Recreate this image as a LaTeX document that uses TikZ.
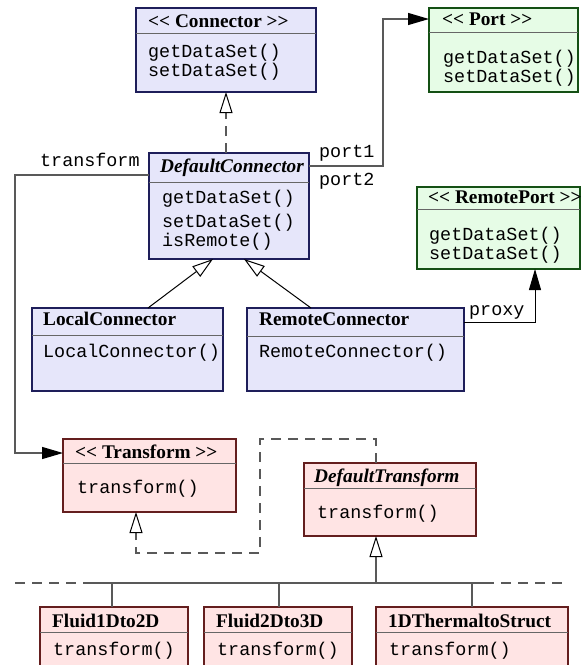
\documentclass[tikz,border=0pt]{standalone}
\usepackage{fontspec}
\setmainfont{Liberation Serif}
\setmonofont{Liberation Mono}
\usetikzlibrary{arrows.meta,calc}

\definecolor{clsblue}{RGB}{230,230,250}
\definecolor{clsgreen}{RGB}{230,252,230}
\definecolor{clspink}{RGB}{255,228,228}
\definecolor{edgeblue}{RGB}{30,30,90}
\definecolor{edgegreen}{RGB}{20,80,20}
\definecolor{edgepink}{RGB}{100,30,30}

\newcommand{\ltlt}{<\kern0pt<}
\newcommand{\gtgt}{>\kern0pt>}

\begin{document}
\begin{tikzpicture}[x=1pt,y=-1pt,
        cls/.style={draw, line width=1.5pt, anchor=north west, inner sep=0pt, outer sep=0pt},
        blue class/.style={cls, draw=edgeblue, fill=clsblue},
        green class/.style={cls, draw=edgegreen, fill=clsgreen},
        pink class/.style={cls, draw=edgepink, fill=clspink},
        divider/.style={draw=black!60, line width=1pt},
        ctitle/.style={anchor=base west, inner sep=0pt, font=\fontsize{19.3}{22}\selectfont\bfseries},
        ititle/.style={ctitle, font=\fontsize{19.3}{22}\selectfont\bfseries\itshape},
        cmeth/.style={anchor=base west, inner sep=0pt, font=\fontsize{18.4}{19}\selectfont\ttfamily},
        lbl/.style={cmeth},
        assoc/.style={draw=black!65, line width=1.3pt},
        inh/.style={draw=black, line width=1pt},
        realize/.style={assoc, dash pattern=on 10pt off 7pt},
        inherit/.style={-{Triangle[open,length=21pt,width=13pt,color=black,line width=1pt]}},
        navig/.style={-{Triangle[length=21pt,width=12pt,color=black]}},
    ]
    \useasboundingbox (0,0) rectangle (581,665);
    \clip (0,0) rectangle (581,665);

    \node[blue class, minimum width=180pt, minimum height=84pt] (conn) at (136,8) {};
    \draw[divider] ([yshift=-25pt]conn.north west) -- ([yshift=-25pt]conn.north east);
    \node[ctitle] (connT) at (148,27) {\ltlt{} Connector \gtgt};
    \node[cmeth] (connGet) at (148,57) {getDataSet()};
    \node[cmeth] (connSet) at (148,76) {setDataSet()};

    \node[green class, minimum width=149pt, minimum height=84pt] (port) at (429,8) {};
    \draw[divider] ([yshift=-24pt]port.north west) -- ([yshift=-24pt]port.north east);
    \node[ctitle] (portT) at (442,25) {\ltlt{} Port \gtgt};
    \node[cmeth] (portGet) at (443,63) {getDataSet()};
    \node[cmeth] (portSet) at (443,82) {setDataSet()};

    \node[blue class, minimum width=160pt, minimum height=106pt] (dconn) at (149,153) {};
    \draw[divider] ([yshift=-29pt]dconn.north west) -- ([yshift=-29pt]dconn.north east);
    \node[ititle] (dconnT) at (160,172) {DefaultConnector};
    \node[cmeth] (dconnGet) at (162,203) {getDataSet()};
    \node[cmeth] (dconnSet) at (162,227) {setDataSet()};
    \node[cmeth] (dconnRem) at (162,246) {isRemote()};

    \node[green class, minimum width=163pt, minimum height=82pt] (rport) at (417,187) {};
    \draw[divider] ([yshift=-22pt]rport.north west) -- ([yshift=-22pt]rport.north east);
    \node[ctitle] (rportT) at (428,203) {\ltlt{} RemotePort \gtgt};
    \node[cmeth] (rportGet) at (429,240) {getDataSet()};
    \node[cmeth] (rportSet) at (429,259) {setDataSet()};

    \node[blue class, minimum width=191pt, minimum height=83pt] (lconn) at (32,308) {};
    \draw[divider] ([yshift=-27pt]lconn.north west) -- ([yshift=-27pt]lconn.north east);
    \node[ctitle] (lconnT) at (43,325) {LocalConnector};
    \node[cmeth] (lconnM) at (43,357) {LocalConnector()};

    \node[blue class, minimum width=217pt, minimum height=83pt] (rconn) at (247,308) {};
    \draw[divider] ([yshift=-28pt]rconn.north west) -- ([yshift=-28pt]rconn.north east);
    \node[ctitle] (rconnT) at (259,325) {RemoteConnector};
    \node[cmeth] (rconnM) at (259,357) {RemoteConnector()};

    \node[pink class, minimum width=173pt, minimum height=73pt] (tran) at (63,439) {};
    \draw[divider] ([yshift=-24pt]tran.north west) -- ([yshift=-24pt]tran.north east);
    \node[ctitle] (tranT) at (75,458) {\ltlt{} Transform \gtgt};
    \node[cmeth] (tranM) at (77,493) {transform()};

    \node[pink class, minimum width=172pt, minimum height=73pt] (dtran) at (304,463) {};
    \draw[divider] ([yshift=-25pt]dtran.north west) -- ([yshift=-25pt]dtran.north east);
    \node[ititle] (dtranT) at (314,482) {DefaultTransform};
    \node[cmeth] (dtranM) at (317,518) {transform()};

    \node[pink class, minimum width=148pt, minimum height=75pt] (fone) at (40,607) {};
    \draw[divider] ([yshift=-25pt]fone.north west) -- ([yshift=-25pt]fone.north east);
    \node[ctitle] (foneT) at (52,627) {Fluid1Dto2D};
    \node[cmeth] (foneM) at (53,655) {transform()};

    \node[pink class, minimum width=148pt, minimum height=75pt] (ftwo) at (204,607) {};
    \draw[divider] ([yshift=-25pt]ftwo.north west) -- ([yshift=-25pt]ftwo.north east);
    \node[ctitle] (ftwoT) at (216,627) {Fluid2Dto3D};
    \node[cmeth] (ftwoM) at (217,655) {transform()};

    \node[pink class, minimum width=192pt, minimum height=75pt] (therm) at (376,607) {};
    \draw[divider] ([yshift=-25pt]therm.north west) -- ([yshift=-25pt]therm.north east);
    \node[ctitle] (thermT) at (388,627) {1DThermaltoStruct};
    \node[cmeth] (thermM) at (389,655) {transform()};

    \draw[realize, inherit] (conn.south |- dconn.north) -- (conn.south);
    \draw[assoc, navig] ([yshift=-13pt]dconn.north east) -| ([xshift=-46pt,yshift=-11pt]port.north west)
        -- ([yshift=-11pt]port.north west);
    \node[lbl] (portone) at (319,157) {port1};
    \node[lbl] (porttwo) at (319,185) {port2};

    \draw[assoc, navig] ([yshift=-22pt]dconn.north west) -- ++(-134,0) |- ([yshift=-14pt]tran.north west);
    \node[lbl] (tranlbl) at (40,166) {transform};

    \draw[inh, navig] ([yshift=-14pt]rconn.north east) -| ([xshift=118pt]rport.south west);
    \node[lbl] (proxylbl) at (469,315) {proxy};

    \draw[inh, inherit] ([xshift=116pt]lconn.north west) -- ([xshift=64pt]dconn.south west);
    \draw[inh, inherit] ([xshift=64pt]rconn.north west) -- ([xshift=95pt]dconn.south west);

    \draw[realize, inherit] ([xshift=72pt]dtran.north west) -- ++(0,-24) -- ++(-116,0) -- ++(0,114)
        -| ([xshift=73pt]tran.south west);

    \coordinate (bus) at ([xshift=72pt,yshift=-47pt]dtran.south west);
    \draw[assoc, inherit] (bus) -- ([xshift=72pt]dtran.south west);
    \draw[assoc] ($(fone.north west |- bus)+(49,0)$) -- ($(therm.north west |- bus)+(108,0)$);
    \draw[realize] ($(fone.north west |- bus)+(-25,0)$) -- ++(74,0);
    \draw[realize] ($(therm.north west |- bus)+(108,0)$) -- ++(85,0);
    \draw[assoc] ([xshift=72pt]fone.north west) -- ++(0,-24);
    \draw[assoc] ([xshift=75pt]ftwo.north west) -- ++(0,-24);
    \draw[assoc] ([xshift=96pt]therm.north west) -- ++(0,-24);
\end{tikzpicture}
\end{document}
